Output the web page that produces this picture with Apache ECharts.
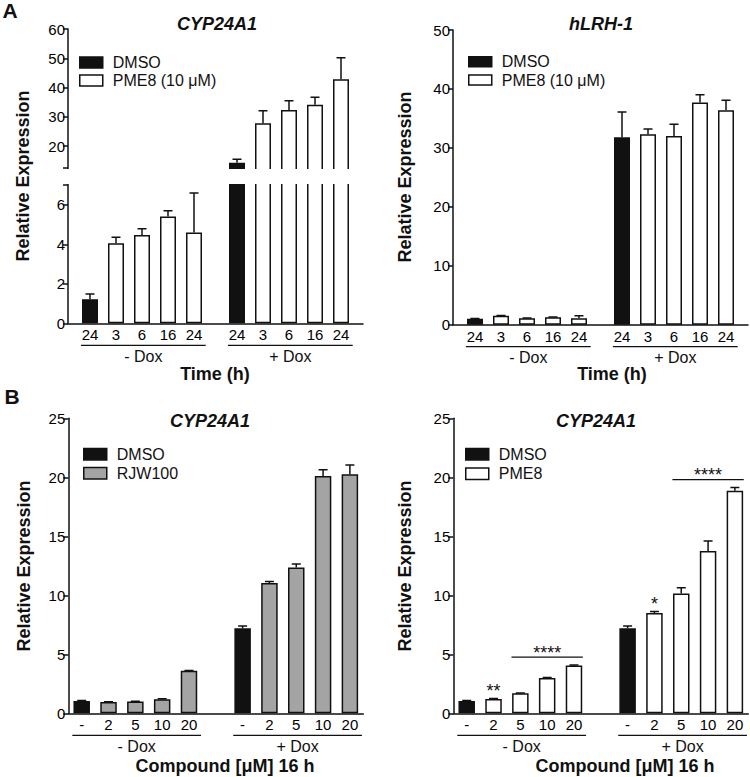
<!DOCTYPE html>
<html><head><meta charset="utf-8">
<script src="https://cdn.jsdelivr.net/npm/echarts@6/dist/echarts.min.js"></script>
<style>html,body{margin:0;padding:0;background:#fff}#c{width:750px;height:777px}</style>
</head><body><div id="c"></div>
<script>
// ---------- data ----------
const timeLabels = ['24', '3', '6', '16', '24'];
const doseLabels = ['-', '2', '5', '10', '20'];
const groupLabels = ['- Dox', '+ Dox'];

// Panel A left: CYP24A1 time course (first item of each group = DMSO)
const aCypMinus    = [1.22, 4.05, 4.47, 5.40, 4.60];
const aCypMinusErr = [0.26, 0.30, 0.32, 0.30, 2.00];
const aCypPlus     = [14.3, 27.8, 32.3, 34.1, 42.8];
const aCypPlusErr  = [1.2, 4.3, 3.2, 2.6, 7.4];
// Panel A right: hLRH-1 time course
const aLrhMinus    = [1.0, 1.5, 1.1, 1.25, 1.1];
const aLrhMinusErr = [0.05, 0.05, 0.05, 0.05, 0.40];
const aLrhPlus     = [31.8, 32.3, 32.0, 37.7, 36.4];
const aLrhPlusErr  = [4.3, 0.9, 2.0, 1.3, 1.7];
// Panel B left: CYP24A1 RJW100 dose
const bRjwMinus    = [1.05, 0.95, 1.0, 1.2, 3.6];
const bRjwMinusErr = [0.03, 0.02, 0.02, 0.03, 0.02];
const bRjwPlus     = [7.2, 11.05, 12.35, 20.1, 20.25];
const bRjwPlusErr  = [0.2, 0.12, 0.3, 0.55, 0.8];
// Panel B right: CYP24A1 PME8 dose
const bPmeMinus    = [1.05, 1.22, 1.7, 3.0, 4.05];
const bPmeMinusErr = [0.03, 0.03, 0.03, 0.03, 0.04];
const bPmePlus     = [7.2, 8.5, 10.15, 13.75, 18.85];
const bPmePlusErr  = [0.2, 0.12, 0.5, 0.85, 0.28];
const bPmeSig = [
  { text: '**',   group: 0, from: 1, to: 1 },
  { text: '****', group: 0, from: 2, to: 4 },
  { text: '*',    group: 1, from: 1, to: 1 },
  { text: '****', group: 1, from: 2, to: 4 }
];

// ---------- style ----------
const INK = '#111';
const GRAY = '#a4a4a4';
const FONT = 'Liberation Sans, Arial, sans-serif';

const chart = echarts.init(document.getElementById('c'), null, { renderer: 'svg' });

const grid = [], xAxis = [], yAxis = [], series = [], legend = [];

function errRender(params, api) {
  const x = api.value(0), v = api.value(1), e = api.value(2);
  const p0 = api.coord([x, v]), p1 = api.coord([x, v + e]);
  const hw = 4.5;
  const st = { stroke: INK, lineWidth: 1.5 };
  return { type: 'group', children: [
    { type: 'line', shape: { x1: p0[0], y1: p0[1], x2: p1[0], y2: p1[1] }, style: st },
    { type: 'line', shape: { x1: p1[0] - hw, y1: p1[1], x2: p1[0] + hw, y2: p1[1] }, style: st }
  ]};
}

// builds one panel; returns grid indices
function addPanel(p) {
  const positions = [0, 1, 2, 3, 4].concat([0, 1, 2, 3, 4].map(i => i + p.plusOff));
  const labels = p.labels.concat(p.labels);
  const vals = p.minus.concat(p.plus);
  const errs = p.minusErr.concat(p.plusErr);
  const fmt = v => {
    const k = positions.findIndex(q => Math.abs(q - v) < 1e-6);
    return k >= 0 ? labels[k] : '';
  };
  const idx = [];
  p.rects.forEach(r => {
    const gi = grid.length;
    idx.push(gi);
    grid.push({ left: r.left, top: r.top, width: r.width, height: r.height });
    xAxis.push({
      gridIndex: gi, type: 'value', min: p.xMin, max: p.xMax, show: r.showX,
      axisLine: { show: true, onZero: false, lineStyle: { color: INK, width: 1.5 } },
      axisTick: { show: false }, splitLine: { show: false },
      axisLabel: { customValues: positions, formatter: fmt, fontSize: 15, margin: 4, color: '#000', fontFamily: FONT }
    });
    const ya = {
      gridIndex: gi, type: 'value', min: r.yMin, max: r.yMax,
      axisLine: { show: true, onZero: false, lineStyle: { color: INK, width: 1.5 } },
      axisTick: { show: true, length: 5, lineStyle: { color: INK, width: 1.5 } },
      splitLine: { show: false },
      axisLabel: { fontSize: 15, margin: 3, color: '#000', fontFamily: FONT }
    };
    if (r.interval) ya.interval = r.interval;
    if (r.ticks) { ya.axisTick.customValues = r.ticks; ya.axisLabel.customValues = r.tickLabels; }
    yAxis.push(ya);
    // only draw the points that reach into this grid's value range
    const visible = i => vals[i] > r.yMin;
    const common = { type: 'bar', xAxisIndex: gi, yAxisIndex: gi, barWidth: p.barWidth, barGap: '-100%', animation: false, clip: true };
    series.push(Object.assign({}, common, {
      name: 'DMSO',
      itemStyle: { color: INK, borderColor: INK, borderWidth: 1.5 },
      data: [0, 5].filter(visible).map(i => [positions[i], vals[i]])
    }));
    series.push(Object.assign({}, common, {
      name: p.compound,
      itemStyle: { color: p.compoundColor, borderColor: INK, borderWidth: 1.5 },
      data: positions.map((x, i) => i).filter(i => i % 5 !== 0 && visible(i)).map(i => [positions[i], vals[i]])
    }));
    series.push({
      type: 'custom', xAxisIndex: gi, yAxisIndex: gi, clip: true, z: 5, animation: false,
      renderItem: errRender, encode: { x: 0, y: 1 },
      data: positions.map((x, i) => i).filter(visible).map(i => [positions[i], vals[i], errs[i]])
    });
  });
  legend.push({
    data: ['DMSO', p.compound], orient: 'vertical', left: p.legend[0], top: p.legend[1],
    padding: 0,
    itemWidth: 23, itemHeight: p.legendH, itemGap: p.legendGap, icon: 'rect',
    selectedMode: false,
    itemStyle: { borderColor: INK, borderWidth: 1.5 },
    textStyle: { fontSize: 16, color: INK, fontFamily: FONT, lineHeight: 16, padding: [0, 0, 0, 5] }
  });
  return { idx, positions, vals, errs };
}

const A_PLUS = 5.654;
const upPx = 139 / 47.5;      // px per unit, upper segment
const loPx = 138.3 / 7;       // px per unit, lower segment
const pA1 = addPanel({
  labels: timeLabels, minus: aCypMinus, minusErr: aCypMinusErr, plus: aCypPlus, plusErr: aCypPlusErr,
  plusOff: A_PLUS, xMin: -0.846, xMax: 10.5, barWidth: 16, compound: 'PME8 (10 μM)', compoundColor: '#fff',
  legend: [79, 54.5], legendH: 11, legendGap: 2,
  rects: [
    { left: 68, top: 29, width: 295, height: 50 * upPx, yMin: 10, yMax: 60, showX: false,
      ticks: [12.5, 20, 30, 40, 50, 60], tickLabels: [20, 30, 40, 50, 60] },
    { left: 68, top: 323.3 - 7.4 * loPx, width: 295, height: 7.4 * loPx, yMin: 0, yMax: 7.4, showX: true,
      ticks: [0, 2, 4, 6, 7], tickLabels: [0, 2, 4, 6] }
  ]
});
const pA2 = addPanel({
  labels: timeLabels, minus: aLrhMinus, minusErr: aLrhMinusErr, plus: aLrhPlus, plusErr: aLrhPlusErr,
  plusOff: A_PLUS, xMin: -0.846, xMax: 10.5, barWidth: 16, compound: 'PME8 (10 μM)', compoundColor: '#fff',
  legend: [468, 53.7], legendH: 10, legendGap: 2.3,
  rects: [{ left: 453, top: 30, width: 295, height: 294.7, yMin: 0, yMax: 50, interval: 10, showX: true }]
});
const pB1 = addPanel({
  labels: doseLabels, minus: bRjwMinus, minusErr: bRjwMinusErr, plus: bRjwPlus, plusErr: bRjwPlusErr,
  plusOff: 6, xMin: -0.5, xMax: 10.5, barWidth: 16.5, compound: 'RJW100', compoundColor: GRAY,
  legend: [83, 446.2], legendH: 11.5, legendGap: 3,
  rects: [{ left: 68.3, top: 418.3, width: 295, height: 295, yMin: 0, yMax: 25, interval: 5, showX: true }]
});
const pB2 = addPanel({
  labels: doseLabels, minus: bPmeMinus, minusErr: bPmeMinusErr, plus: bPmePlus, plusErr: bPmePlusErr,
  plusOff: 6, xMin: -0.5, xMax: 10.5, barWidth: 16.5, compound: 'PME8', compoundColor: '#fff',
  legend: [465, 446.2], legendH: 11.5, legendGap: 3.5,
  rects: [{ left: 453.3, top: 418.3, width: 295, height: 295, yMin: 0, yMax: 25, interval: 5, showX: true }]
});

chart.setOption({
  animation: false,
  backgroundColor: '#fff',
  textStyle: { fontFamily: FONT },
  grid, xAxis, yAxis, series, legend
});

// ---------- annotations ----------
const px = (gi, x, y) => chart.convertToPixel({ gridIndex: gi }, [x, y]);
const g = [];
function text(t, x, y, size, opts) {
  g.push(Object.assign({
    type: 'text', x, y, z: 50,
    style: Object.assign({ text: t, fontSize: size, fontFamily: FONT, fill: INK, align: 'center', verticalAlign: 'middle' }, (opts && opts.style) || {})
  }, (opts && opts.el) || {}));
}
function line(x1, y1, x2, y2) {
  g.push({ type: 'line', z: 50, shape: { x1, y1, x2, y2 }, style: { stroke: INK, lineWidth: 1.2 } });
}
// break band of panel A left
{
  const yU = px(pA1.idx[0], 0, 12.5)[1];
  const yL = px(pA1.idx[1], 0, 7)[1];
  g.push({ type: 'rect', z: 40, shape: { x: 50, y: yU + 1, width: 318, height: yL - yU - 1.9 }, style: { fill: '#fff' } });
}
// group underlines and labels
function groups(gi, positions) {
  const base = px(gi, 0, 0)[1];
  [[0, 4], [5, 9]].forEach((r, k) => {
    const x1 = px(gi, positions[r[0]] - 0.35, 0)[0];
    const x2 = px(gi, positions[r[1]] + 0.45, 0)[0];
    const y = base + 22;
    line(x1, y, x2, y);
    text(groupLabels[k], (x1 + x2) / 2, y + 11, 16);
  });
}
groups(pA1.idx[1], pA1.positions);
groups(pA2.idx[0], pA2.positions);
groups(pB1.idx[0], pB1.positions);
groups(pB2.idx[0], pB2.positions);

// significance marks
bPmeSig.forEach(s => {
  const gi = pB2.idx[0];
  let top = Infinity;
  for (let i = s.from; i <= s.to; i++) {
    const k = s.group * 5 + i;
    top = Math.min(top, px(gi, pB2.positions[k], pB2.vals[k] + pB2.errs[k])[1]);
  }
  const xa = pB2.positions[s.group * 5 + s.from], xb = pB2.positions[s.group * 5 + s.to];
  if (s.from === s.to) {
    text(s.text, px(gi, xa, 0)[0], top - 11.5 + 4, 18);
  } else {
    const x1 = px(gi, xa - 0.33, 0)[0], x2 = px(gi, xb + 0.33, 0)[0];
    const y = top - 8;
    line(x1, y, x2, y);
    text(s.text, (x1 + x2) / 2, y - 8.4 + 4, 18);
  }
});

// panel letters, titles, axis names
text('A', 10, 10, 21, { style: { fontWeight: 'bold' } });
text('B', 12, 396, 21, { style: { fontWeight: 'bold' } });
const bi = { fontWeight: 'bold', fontStyle: 'italic' };
text('CYP24A1', 217, 24, 18, { style: bi });
text('hLRH-1', 601, 24, 18, { style: bi });
text('CYP24A1', 210, 421, 18, { style: bi });
text('CYP24A1', 596, 421, 18, { style: bi });
const rot = { el: { rotation: Math.PI / 2 }, style: { fontWeight: 'bold' } };
text('Relative Expression', 23, 176, 18, rot);
text('Relative Expression', 405, 177, 18, rot);
text('Relative Expression', 24, 566, 18, rot);
text('Relative Expression', 405, 566, 18, rot);
text('Time (h)', 215, 374, 18, { style: { fontWeight: 'bold' } });
text('Time (h)', 612, 374, 18, { style: { fontWeight: 'bold' } });
text('Compound [μM] 16 h', 225, 766, 18, { style: { fontWeight: 'bold' } });
text('Compound [μM] 16 h', 625, 766, 18, { style: { fontWeight: 'bold' } });

chart.setOption({ graphic: { elements: g } });
</script>
</body></html>
